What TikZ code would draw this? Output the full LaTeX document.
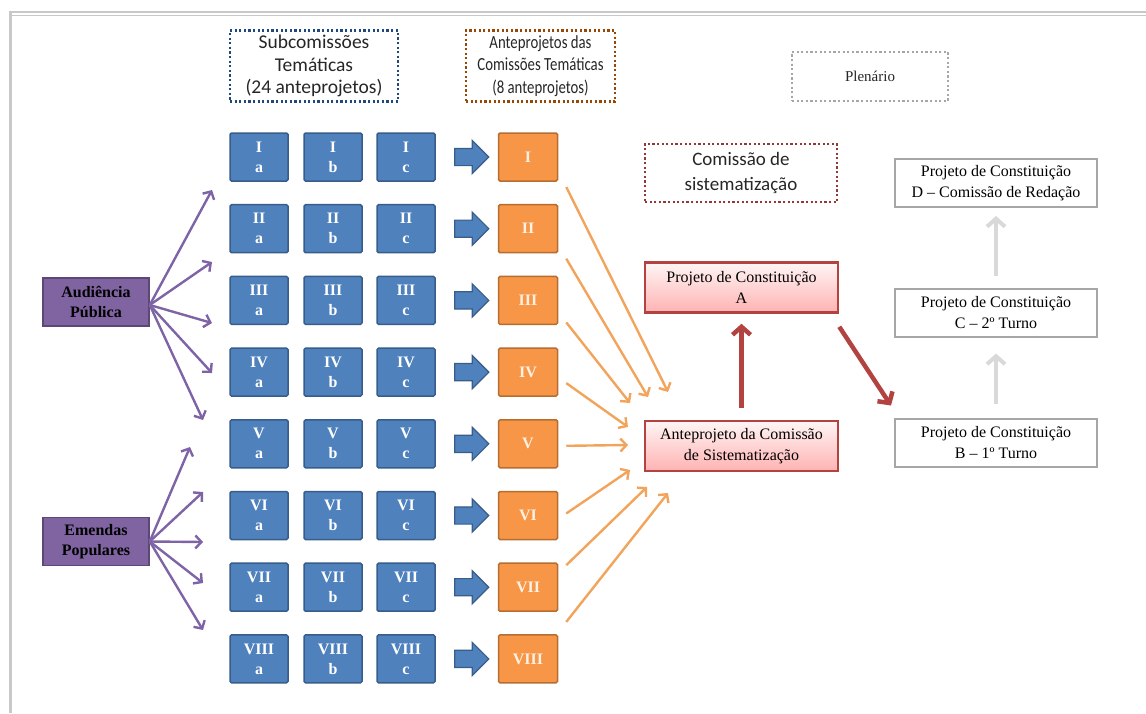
\documentclass[tikz,border=0pt]{standalone}
\usepackage{fontspec}
\setmainfont{Liberation Serif}
\newfontfamily\headfont{Carlito}
\newfontfamily\headfontnarrow[FakeStretch=0.8]{Carlito}
\usetikzlibrary{shapes.arrows,arrows.meta}

\definecolor{boxblue}{HTML}{4F81BD}
\definecolor{boxblueline}{HTML}{385D8A}
\definecolor{boxorange}{HTML}{F79646}
\definecolor{boxorangeline}{HTML}{B66D31}
\definecolor{boxpurple}{HTML}{8064A2}
\definecolor{boxpurpleline}{HTML}{5C4776}
\definecolor{boxred}{HTML}{B24340}
\definecolor{arrpurple}{HTML}{7E64A6}
\definecolor{arrorange}{HTML}{F2A45C}
\definecolor{arrgrey}{HTML}{D9D9D9}
\definecolor{plengrey}{HTML}{A6A6A6}
\definecolor{headblue}{HTML}{1F497D}
\definecolor{headbrown}{HTML}{974806}
\definecolor{headred}{HTML}{953735}
\definecolor{framegrey}{HTML}{C8C8C8}

\tikzset{
  headbox/.style={line width=2.2pt, dash pattern=on 2.2pt off 2.4pt, align=center, inner sep=0pt, text=black!85},
  sub/.style={draw=boxblueline, fill=boxblue, line width=1.5pt, rounded corners=1.5pt, minimum width=58pt, minimum height=48pt,
    inner sep=0pt, align=center, text=white, font=\bfseries\fontsize{16}{20}\selectfont},
  blockarrow/.style={single arrow, draw=boxblueline, fill=boxblue, line width=1.2pt, inner xsep=0pt, inner ysep=8pt,
    minimum height=34pt, minimum width=32pt, single arrow head extend=8pt},
  tema/.style={draw=boxorangeline, fill=boxorange, line width=1.5pt, rounded corners=1.5pt, minimum width=59pt, minimum height=48pt,
    inner sep=0pt, text=orange!10, font=\bfseries\fontsize{16}{20}\selectfont},
  pop/.style={draw=boxpurpleline, fill=boxpurple, line width=1.5pt, minimum width=106pt, minimum height=48pt,
    inner sep=0pt, align=center, font=\bfseries\fontsize{16}{20}\selectfont},
  redbox/.style={draw=boxred, line width=2.5pt, top color=red!4, bottom color=red!30, minimum width=193pt,
    minimum height=50pt, inner sep=0pt, align=center, font=\fontsize{16}{21}\selectfont},
  plen/.style={draw=plengrey, line width=2pt, fill=white, minimum width=202pt, minimum height=48pt,
    inner sep=0pt, align=center, font=\fontsize{16}{21}\selectfont},
  popline/.style={arrpurple, line width=2.4pt, -{Straight Barb[length=6pt,width=13pt]}},
  temaline/.style={arrorange, line width=2.4pt, -{Straight Barb[length=6pt,width=13pt]}},
  redline/.style={boxred, line width=4.5pt, -{Straight Barb[length=8pt,width=18pt]}},
  greyline/.style={arrgrey, line width=4pt, -{Straight Barb[length=8pt,width=18pt]}}
}

\begin{document}
\begin{tikzpicture}[x=1pt,y=-1pt]
\useasboundingbox (0,0) rectangle (1146,713);

% frame
\draw[framegrey, line width=1.2pt] (10,12) -- (1146,12);
\draw[framegrey, line width=1.2pt] (10,15.5) -- (1146,15.5);
\draw[framegrey, line width=3pt] (10,11) -- (10,713);

% headings
\node[headbox, draw=headblue, minimum width=168pt, minimum height=71pt, font=\headfont\fontsize{19.5}{22.5}\selectfont]
  (hsub) at (314,66) {Subcomissões\\Temáticas\\(24 anteprojetos)};
\node[headbox, draw=headbrown, minimum width=149pt, minimum height=71pt, font=\headfontnarrow\fontsize{18.5}{22.5}\selectfont]
  (hant) at (540.5,66) {Anteprojetos das\\Comissões Temáticas\\(8 anteprojetos)};
\node[headbox, draw=headred, minimum width=192pt, minimum height=58pt, font=\headfont\fontsize{19}{25}\selectfont]
  (hsis) at (741,173) {Comissão de\\sistematização};
\node[headbox, draw=plengrey, minimum width=156pt, minimum height=49pt, font=\fontsize{15}{16}\selectfont]
  (hplen) at (870,76.5) {Plenário};

% subcomissoes and comissoes tematicas
\foreach \r [count=\i] in {I,II,III,IV,V,VI,VII,VIII} {
  \pgfmathsetmacro\yy{157+71.7*(\i-1)}
  \node[sub] (sa\i) at (259,\yy) {\r\\a};
  \node[sub] (sb\i) at (333,\yy) {\r\\b};
  \node[sub] (sc\i) at (406,\yy) {\r\\c};
  \node[blockarrow] (ba\i) at (467.5,\yy) {};
  \node[tema] (ct\i) at (528,\yy) {\r};
}

% participacao popular
\node[pop] (aud) at (96,302) {Audiência\\Pública};
\node[pop] (eme) at (96,541.5) {Emendas\\Populares};
\foreach \n/\x/\y in {1/212/190, 2/212/262, 3/212/323, 4/212/373, 5/203/420} {
  \coordinate (audt\n) at (\x,\y);
  \draw[popline] ([yshift=-3pt]aud.east) -- (audt\n);
}
\foreach \n/\x/\y in {1/190/447, 2/203/492, 3/203/542, 4/203/583, 5/203/630} {
  \coordinate (emet\n) at (\x,\y);
  \draw[popline] (eme.east) -- (emet\n);
}

% sistematizacao
\node[redbox] (pcA) at (741.5,287.5) {Projeto de Constituição\\A};
\node[redbox] (acs) at (741.5,446) {Anteprojeto da Comissão\\de Sistematização};
\foreach \i/\dy/\x/\y in {1/-30/668/392, 2/-30/648/397, 3/-22/630/403, 4/-11/628/427,
                          5/-2/628/445, 6/2/630/470, 7/22/647/487, 8/37/668/493} {
  \coordinate (ctt\i) at (\x,\y);
  \draw[temaline] ([shift={(8pt,\dy pt)}]ct\i.east) -- (ctt\i);
}

% plenario
\node[plen] (pcB) at (996,442.5) {Projeto de Constituição\\B – 1º Turno};
\node[plen] (pcC) at (996,312.5) {Projeto de Constituição\\C – 2º Turno};
\node[plen] (pcD) at (996,183) {Projeto de Constituição\\D – Comissão de Redação};

\draw[redline, shorten <=12pt, shorten >=10pt] (acs.north) -- (pcA.south);
\draw[redline] ([yshift=-13pt]pcA.south east) -- ([shift={(-3pt,12pt)}]pcB.north west);
\draw[greyline, shorten <=14pt, shorten >=16pt] (pcB.north) -- (pcC.south);
\draw[greyline, shorten <=12pt, shorten >=8pt] (pcC.north) -- (pcD.south);
\end{tikzpicture}
\end{document}
